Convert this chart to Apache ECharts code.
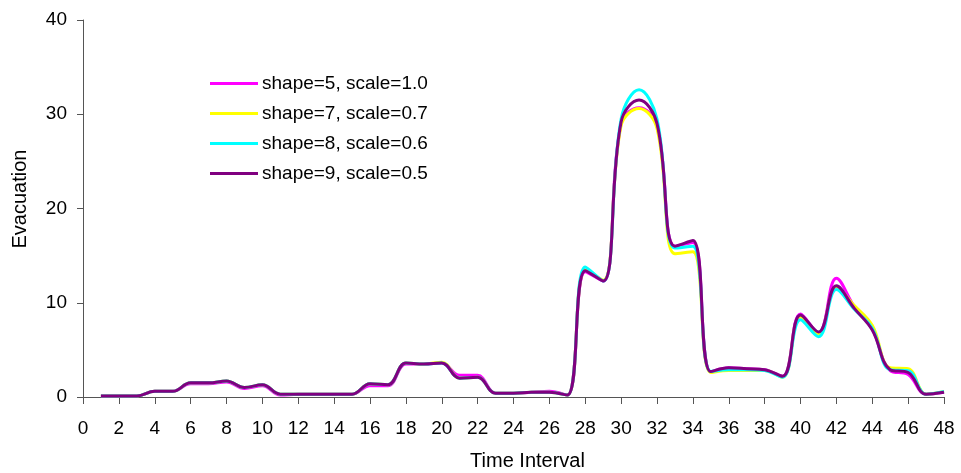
<!DOCTYPE html>
<html>
<head>
<meta charset="utf-8">
<script src="https://cdn.jsdelivr.net/npm/echarts@6/dist/echarts.min.js"></script>
<style>
  html, body { margin: 0; padding: 0; background: #fff; }
  #main { width: 961px; height: 473px; }
</style>
</head>
<body>
<div id="main"></div>
<script>
var intervals = [];
for (var i = 1; i <= 48; i++) intervals.push(i);

var xTicks = [0, 2, 4, 6, 8, 10, 12, 14, 16, 18, 20, 22, 24, 26, 28, 30, 32, 34, 36, 38, 40, 42, 44, 46, 48];
var yTicks = [0, 10, 20, 30, 40];

var names = ['shape=5, scale=1.0', 'shape=7, scale=0.7', 'shape=8, scale=0.6', 'shape=9, scale=0.5'];
var colors = ['#ff00ff', '#ffff00', '#00ffff', '#800080'];

var shape5 = [0.1, 0.1, 0.1, 0.6, 0.6, 1.4, 1.4, 1.6, 0.9, 1.2,
  0.2, 0.3, 0.3, 0.3, 0.3, 1.2, 1.2, 3.5, 3.5, 3.6,
  2.3, 2.3, 0.4, 0.4, 0.5, 0.6, 0.2, 13.3, 12.3, 29.0,
  30.7, 28.8, 16.0, 16.4, 2.7, 3.1, 3.0, 2.9, 2.2, 8.8,
  6.8, 12.6, 9.6, 7.2, 2.8, 2.4, 0.3, 0.5];
var shape7 = [0.1, 0.1, 0.1, 0.6, 0.6, 1.5, 1.5, 1.7, 1.0, 1.3,
  0.3, 0.3, 0.3, 0.3, 0.3, 1.4, 1.3, 3.6, 3.5, 3.7,
  2.0, 2.1, 0.4, 0.4, 0.5, 0.5, 0.2, 13.5, 12.4, 28.8,
  30.6, 28.5, 15.2, 15.4, 2.6, 2.8, 2.8, 2.8, 2.1, 8.5,
  6.7, 11.6, 9.7, 7.6, 3.1, 3.0, 0.3, 0.6];
var shape8 = [0.1, 0.1, 0.1, 0.6, 0.6, 1.5, 1.5, 1.7, 1.0, 1.3,
  0.3, 0.3, 0.3, 0.3, 0.3, 1.4, 1.3, 3.6, 3.5, 3.6,
  2.0, 2.1, 0.4, 0.4, 0.5, 0.5, 0.2, 13.8, 12.3, 29.5,
  32.6, 29.5, 15.8, 16.0, 2.7, 2.9, 2.9, 2.8, 2.1, 8.2,
  6.4, 11.4, 9.3, 7.3, 2.9, 2.8, 0.3, 0.6];
var shape9 = [0.1, 0.1, 0.1, 0.6, 0.6, 1.5, 1.5, 1.7, 1.0, 1.3,
  0.3, 0.3, 0.3, 0.3, 0.3, 1.4, 1.3, 3.6, 3.5, 3.6,
  2.0, 2.1, 0.4, 0.4, 0.5, 0.5, 0.2, 13.4, 12.3, 29.2,
  31.5, 29.0, 16.0, 16.6, 2.7, 3.1, 3.0, 2.9, 2.2, 8.7,
  6.9, 11.8, 9.4, 7.1, 2.9, 2.6, 0.3, 0.5];

var values = [shape5, shape7, shape8, shape9];

function pairs(arr) {
  return arr.map(function (v, k) { return [intervals[k], v]; });
}

var font = '"Liberation Sans", Arial, sans-serif';
var axisColor = '#555';

var chartDom = document.getElementById('main');
var myChart = echarts.init(chartDom);
var option;

option = {
  animation: false,
  backgroundColor: '#fff',
  grid: { left: 83, right: 17, top: 20, bottom: 76, outerBoundsMode: 'none', containLabel: false },
  legend: {
    orient: 'vertical',
    left: 205,
    top: 69,
    itemWidth: 48,
    itemHeight: 3,
    itemGap: 11,
    icon: 'rect',
    textStyle: { fontFamily: font, fontSize: 19, color: '#000', padding: [0, 0, 0, -1] },
    data: names
  },
  xAxis: {
    type: 'value',
    min: 0,
    max: 48,
    interval: 2,
    name: 'Time Interval',
    nameLocation: 'middle',
    nameGap: 54,
    nameTextStyle: { fontFamily: font, fontSize: 20, color: '#000', padding: [0, 0, 0, 28] },
    axisLine: { lineStyle: { color: axisColor, width: 1 } },
    axisTick: { show: true, length: 7, lineStyle: { color: axisColor } },
    axisLabel: {
      fontFamily: font, fontSize: 19, color: '#000', margin: 22,
      formatter: function (v) { return xTicks.indexOf(v) >= 0 ? String(v) : ''; }
    },
    splitLine: { show: false }
  },
  yAxis: {
    type: 'value',
    min: 0,
    max: 40,
    interval: 10,
    name: 'Evacuation',
    nameLocation: 'middle',
    nameGap: 53,
    nameTextStyle: { fontFamily: font, fontSize: 20, color: '#000', padding: [0, 0, 0, 19] },
    axisLine: { show: true, lineStyle: { color: axisColor, width: 1 } },
    axisTick: { show: true, length: 6, lineStyle: { color: axisColor } },
    axisLabel: {
      fontFamily: font, fontSize: 19, color: '#000', margin: 16,
      formatter: function (v) { return yTicks.indexOf(v) >= 0 ? String(v) : ''; }
    },
    splitLine: { show: false }
  },
  series: values.map(function (arr, k) {
    return {
      name: names[k],
      type: 'line',
      data: pairs(arr),
      smooth: 0.4,
      showSymbol: false,
      symbol: 'none',
      lineStyle: { color: colors[k], width: 3 },
      itemStyle: { color: colors[k] },
      z: 2 + k
    };
  })
};

option && myChart.setOption(option);
</script>
</body>
</html>
